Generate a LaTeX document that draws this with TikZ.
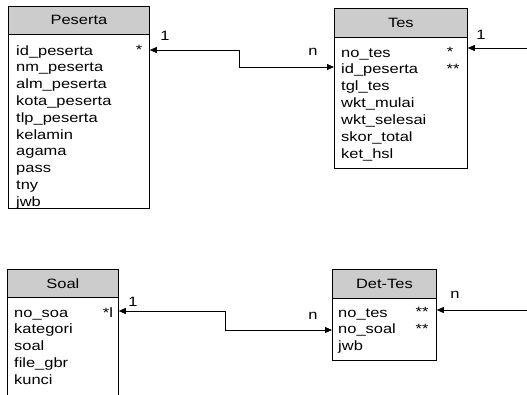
\documentclass[tikz,border=0pt]{standalone}
\usepackage{fontspec}
\setmainfont{Liberation Sans}[FakeStretch=1.22]
\usetikzlibrary{arrows.meta,calc}
\begin{document}
\begin{tikzpicture}[x=1pt,y=-1pt,
  every node/.style={font=\fontsize{13.5}{15}\selectfont, inner sep=0pt},
  hdr/.style={draw=black, line width=0.8pt, fill=black!20, anchor=north west},
  bdy/.style={draw=black, line width=0.8pt, fill=white, anchor=north west},
  fld/.style={anchor=base west},
  mrk/.style={anchor=base},
  lbl/.style={anchor=center},
  rel/.style={draw=black, line width=0.8pt},
  tip/.tip={Triangle[length=7pt,width=6pt]}
]
\useasboundingbox (0,0) rectangle (527,394);
\fill[white] (0,0) rectangle (527,394);

% Peserta
\node[hdr, minimum width=141pt, minimum height=28pt] (pesh) at (8,6) {};
\node at (pesh.center) {Peserta};
\node[bdy, minimum width=141pt, minimum height=174pt] (pesb) at (8,34) {};
\foreach \t [count=\i from 0] in {id\_peserta,nm\_peserta,alm\_peserta,kota\_peserta,tlp\_peserta,kelamin,agama,pass,tny,jwb}
  \node[fld] (pes\i) at (16,{55+16.8*\i}) {\t};
\node[mrk] (pesm) at (139,54) {*};

% Tes
\node[hdr, minimum width=133pt, minimum height=29pt] (tesh) at (334,8) {};
\node at (tesh.center) {Tes};
\node[bdy, minimum width=133pt, minimum height=131pt] (tesb) at (334,37) {};
\foreach \t [count=\i from 0] in {no\_tes,id\_peserta,tgl\_tes,wkt\_mulai,wkt\_selesai,skor\_total,ket\_hsl}
  \node[fld] (tes\i) at (341,{57+16.9*\i}) {\t};
\node[mrk] (tesm1) at (450,56) {*};
\node[mrk] (tesm2) at (453,73) {**};

% Soal
\node[hdr, minimum width=111pt, minimum height=28pt] (soalh) at (7,269) {};
\node at (soalh.center) {Soal};
\node[bdy, minimum width=111pt, minimum height=103pt] (soalb) at (7,297) {};
\foreach \t [count=\i from 0] in {no\_soa,kategori,soal,file\_gbr,kunci}
  \node[fld] (soal\i) at (14,{317+16.8*\i}) {\t};
\node[mrk] (soalm) at (108,317) {*l};

% Det-Tes
\node[hdr, minimum width=104pt, minimum height=29pt] (deth) at (332,269) {};
\node at (deth.center) {Det-Tes};
\node[bdy, minimum width=104pt, minimum height=62pt] (detb) at (332,298) {};
\foreach \t [count=\i from 0] in {no\_tes,no\_soal,jwb}
  \node[fld] (det\i) at (338,{317+16.9*\i}) {\t};
\node[mrk] (detm1) at (422,316) {**};
\node[mrk] (detm2) at (422,333) {**};

% free ends
\coordinate (tesin) at (527,48);
\coordinate (detin) at (527,310);

% connectors
\draw[rel, {tip}-{tip}] (pesb.east |- 0,50) -- (239,50) |- (tesb.west |- 0,67);
\draw[rel, -{tip}] (tesin) -- (tesb.east |- tesin);
\draw[rel, {tip}-{tip}] (soalb.east |- 0,311) -- (225,311) |- (detb.west |- 0,330);
\draw[rel, -{tip}] (detin) -- (detb.east |- detin);

% labels
\node[lbl] (l1) at (165,36) {1};
\node[lbl] (l2) at (313,52) {n};
\node[lbl] (l3) at (481,35) {1};
\node[lbl] (l4) at (133,302) {1};
\node[lbl] (l5) at (313,316) {n};
\node[lbl] (l6) at (455,295) {n};
\end{tikzpicture}
\end{document}
